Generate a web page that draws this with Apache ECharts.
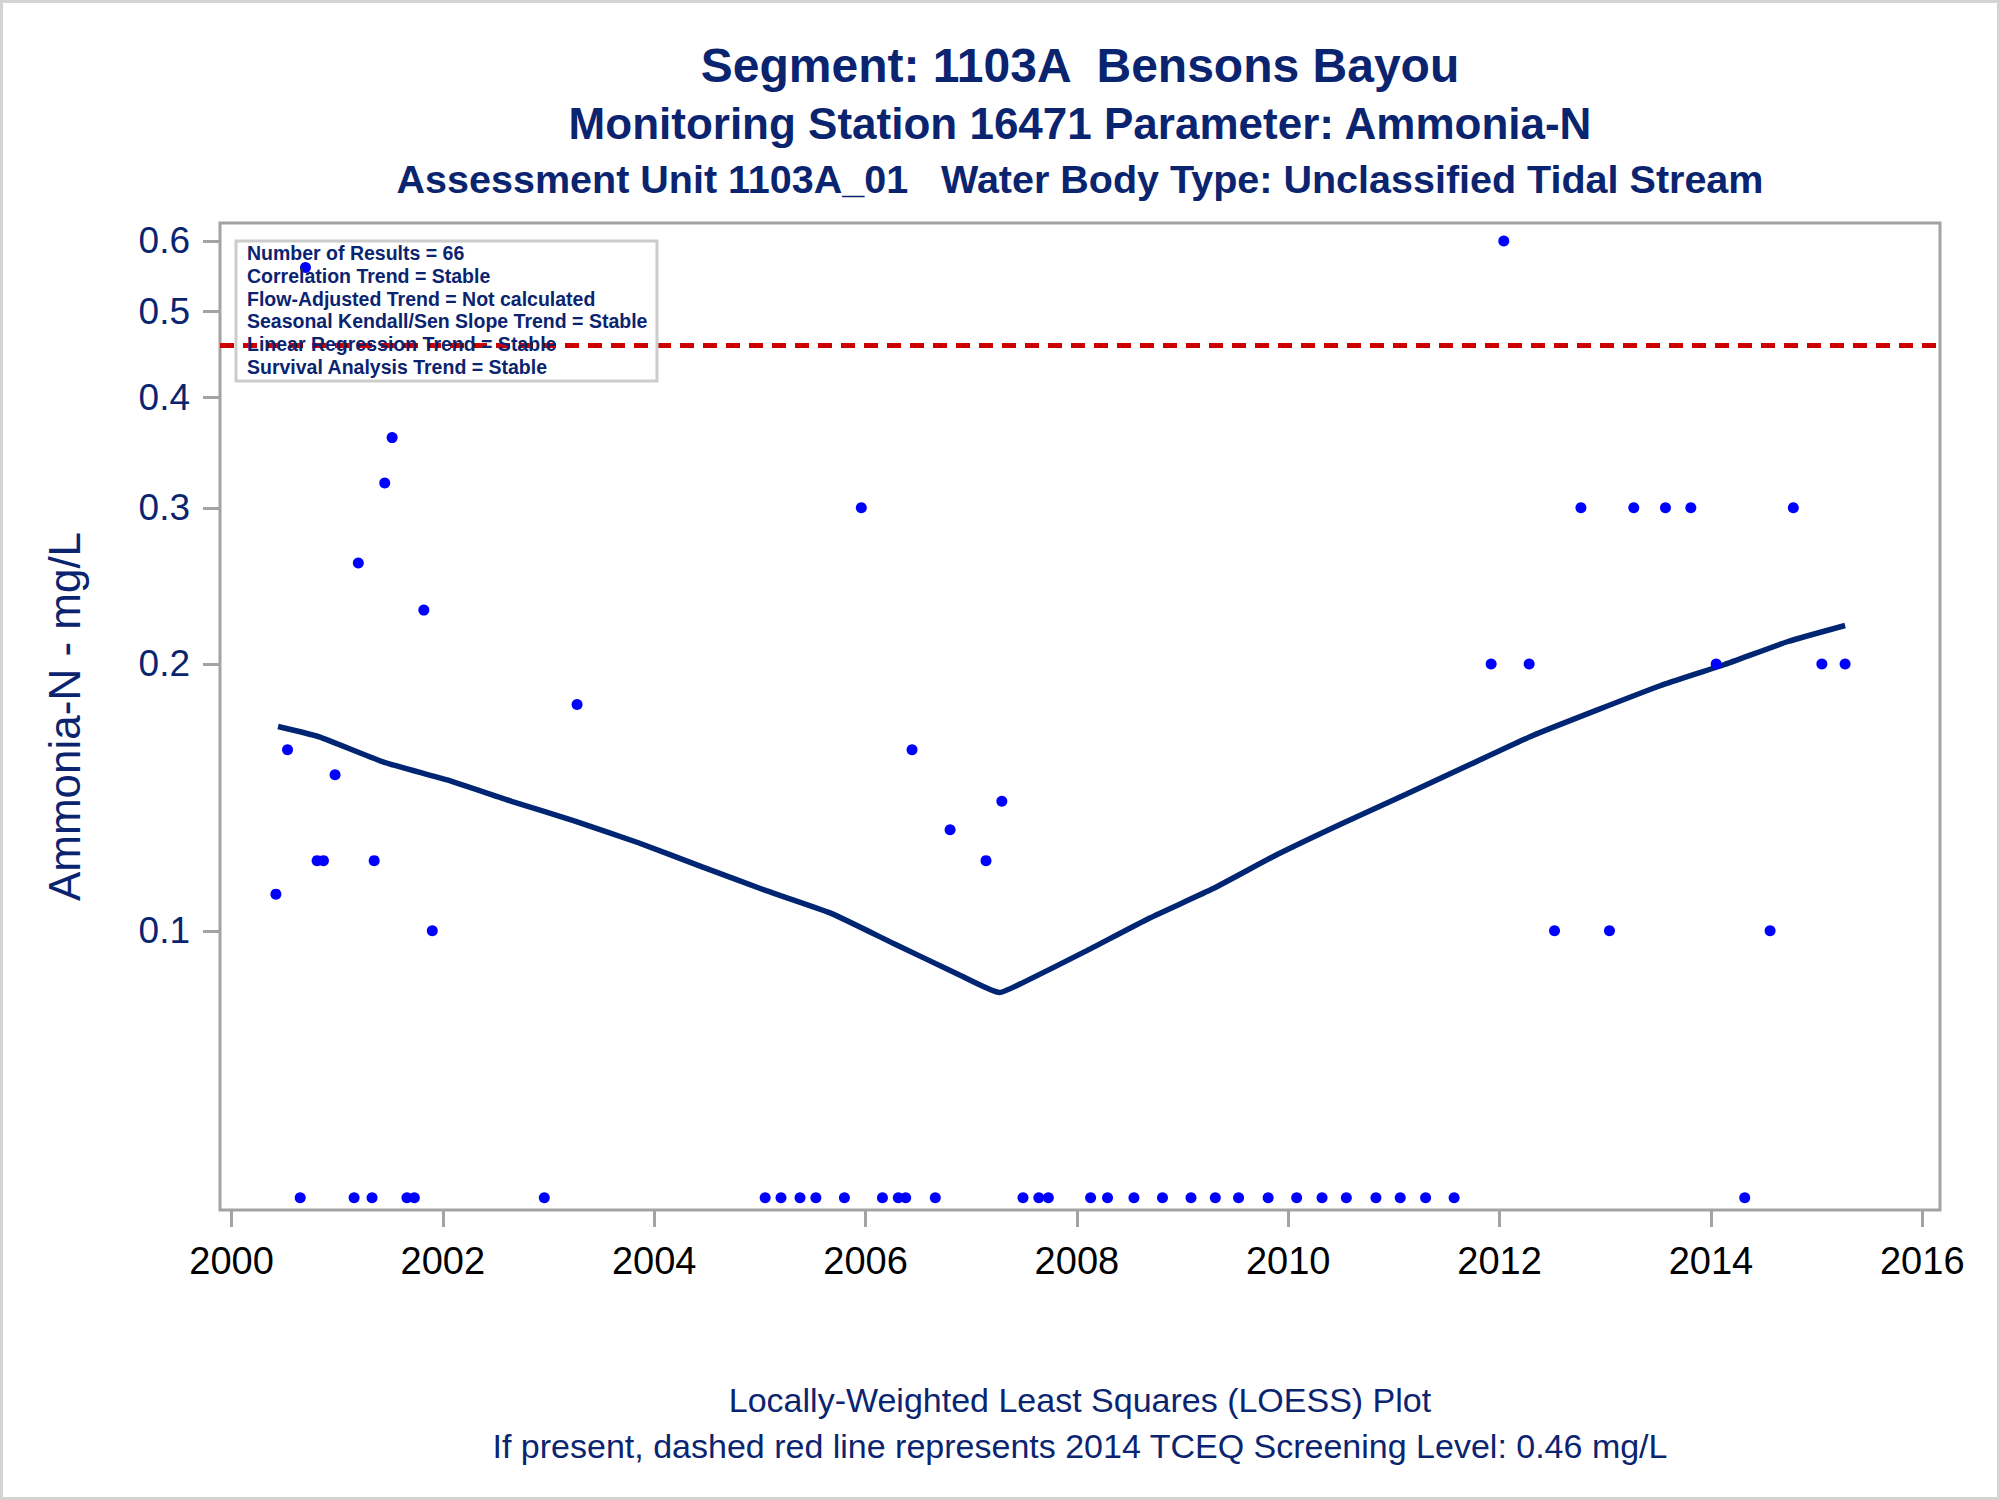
<!DOCTYPE html>
<html>
<head>
<meta charset="utf-8">
<title>Segment 1103A Bensons Bayou - Ammonia-N</title>
<script src="https://cdn.jsdelivr.net/npm/echarts@6/dist/echarts.min.js"></script>
<style>
  html, body { margin: 0; padding: 0; background: #fff; }
  #main { width: 2000px; height: 1500px; }
</style>
</head>
<body>
<div id="main"></div>
<script>
// sample dates (decimal year) and results, mg/L
const sampleYear = [
  2000.42, 2000.53, 2000.65, 2000.70, 2000.81, 2000.87, 2000.98, 2001.16, 2001.20, 2001.33,
  2001.35, 2001.45, 2001.52, 2001.66, 2001.73, 2001.82, 2001.90, 2002.96, 2003.27, 2005.05,
  2005.20, 2005.38, 2005.53, 2005.80, 2005.96, 2006.16, 2006.31, 2006.38, 2006.44, 2006.66,
  2006.80, 2007.14, 2007.29, 2007.49, 2007.64, 2007.73, 2008.13, 2008.29, 2008.54, 2008.81,
  2009.08, 2009.31, 2009.53, 2009.81, 2010.08, 2010.32, 2010.55, 2010.83, 2011.06, 2011.30,
  2011.57, 2011.92, 2012.04, 2012.28, 2012.52, 2012.77, 2013.04, 2013.27, 2013.57, 2013.81,
  2014.05, 2014.32, 2014.56, 2014.78, 2015.05, 2015.27
];
const sampleValue = [
  0.11, 0.16, 0.05, 0.56, 0.12, 0.12, 0.15, 0.05, 0.26, 0.05,
  0.12, 0.32, 0.36, 0.05, 0.05, 0.23, 0.10, 0.05, 0.18, 0.05,
  0.05, 0.05, 0.05, 0.05, 0.30, 0.05, 0.05, 0.05, 0.16, 0.05,
  0.13, 0.12, 0.14, 0.05, 0.05, 0.05, 0.05, 0.05, 0.05, 0.05,
  0.05, 0.05, 0.05, 0.05, 0.05, 0.05, 0.05, 0.05, 0.05, 0.05,
  0.05, 0.20, 0.60, 0.20, 0.10, 0.30, 0.10, 0.30, 0.30, 0.30,
  0.20, 0.05, 0.10, 0.30, 0.20, 0.20
];

// LOESS fit
const loessYear = [
  2000.44, 2000.83, 2001.44, 2002.04, 2002.65, 2003.25, 2003.85, 2004.46, 2005.06, 2005.67,
  2006.27, 2006.88, 2007.27, 2007.48, 2008.08, 2008.69, 2009.29, 2009.90, 2010.50, 2011.11,
  2011.71, 2012.31, 2012.92, 2013.52, 2014.13, 2014.73, 2015.27
];
const loessValue = [
  0.170, 0.1655, 0.155, 0.148, 0.140, 0.133, 0.1257, 0.118, 0.111, 0.1047,
  0.0967, 0.0893, 0.0852, 0.0873, 0.0948, 0.1034, 0.1116, 0.122, 0.132, 0.1425,
  0.1538, 0.166, 0.1774, 0.189, 0.1997, 0.212, 0.221
];

const screeningLevel = 0.46;
const yearTicks = [2000, 2002, 2004, 2006, 2008, 2010, 2012, 2014, 2016];
const valueTicks = [0.1, 0.2, 0.3, 0.4, 0.5, 0.6];

const titleLines = [
  'Segment: 1103A  Bensons Bayou',
  'Monitoring Station 16471 Parameter: Ammonia-N',
  'Assessment Unit 1103A_01   Water Body Type: Unclassified Tidal Stream'
];
const footLines = [
  'Locally-Weighted Least Squares (LOESS) Plot',
  'If present, dashed red line represents 2014 TCEQ Screening Level: 0.46 mg/L'
];
const statLines = [
  'Number of Results = 66',
  'Correlation Trend = Stable',
  'Flow-Adjusted Trend = Not calculated',
  'Seasonal Kendall/Sen Slope Trend = Stable',
  'Linear Regression Trend = Stable',
  'Survival Analysis Trend = Stable'
];

const navy = '#0b2470';
const font = "'Liberation Sans', Arial, Helvetica, sans-serif";
const lg = v => Math.log10(v);

// y axis is drawn in log10 units, labels show the real values
const gridLeft = 220, gridTop = 223, gridW = 1720, gridH = 987;
const cx = gridLeft + gridW / 2;

let graphics = [];
graphics.push({
  type: 'rect', silent: true, z: 0,
  shape: { x: 1.5, y: 1.5, width: 1997, height: 1497 },
  style: { fill: 'none', stroke: '#d3d3d3', lineWidth: 3 }
});
const titleSizes = [48, 44, 39.5];
const titleY = [65, 123, 179];
titleLines.forEach(function(t, i) {
  graphics.push({
    type: 'text', x: cx, y: titleY[i], z: 10,
    style: { text: t, fill: navy, fontSize: titleSizes[i], fontWeight: 'bold',
             fontFamily: font, align: 'center', verticalAlign: 'middle' }
  });
});
const footY = [1400, 1446];
footLines.forEach(function(t, i) {
  graphics.push({
    type: 'text', x: cx, y: footY[i], z: 10,
    style: { text: t, fill: navy, fontSize: 34, fontFamily: font,
             align: 'center', verticalAlign: 'middle' }
  });
});
graphics.push({
  type: 'text', x: 64, y: gridTop + gridH / 2, rotation: Math.PI / 2, z: 10,
  style: { text: 'Ammonia-N - mg/L', fill: navy, fontSize: 44, fontFamily: font,
           align: 'center', verticalAlign: 'middle' }
});
graphics.push({
  type: 'rect', silent: true, z: 10,
  shape: { x: 236, y: 241, width: 421, height: 140 },
  style: { fill: 'none', stroke: '#cccccc', lineWidth: 3 }
});
statLines.forEach(function(t, i) {
  graphics.push({
    type: 'text', x: 247, y: 253 + i * 22.8, z: 10,
    style: { text: t, fill: navy, fontSize: 19.5, fontWeight: 'bold', fontFamily: font,
             align: 'left', verticalAlign: 'middle' }
  });
});

const myChart = echarts.init(document.getElementById('main'), null, { renderer: 'svg' });

const option = {
  animation: false,
  backgroundColor: '#ffffff',
  textStyle: { fontFamily: font },
  grid: {
    left: gridLeft, top: gridTop, width: gridW, height: gridH,
    show: true, borderColor: '#a3a3a3', borderWidth: 3,
    containLabel: false, outerBoundsMode: 'none'
  },
  xAxis: {
    type: 'value',
    min: 1999.891, max: 2016.168,
    axisLine: { show: false },
    splitLine: { show: false },
    axisTick: { show: true, customValues: yearTicks, length: 17,
                lineStyle: { color: '#a3a3a3', width: 3 } },
    axisLabel: { customValues: yearTicks, fontSize: 38, color: '#000000',
                 margin: 32, fontFamily: font,
                 formatter: function(v) { return String(Math.round(v)); } }
  },
  yAxis: {
    type: 'value',
    min: lg(0.04843), max: lg(0.6286),
    axisLine: { show: false },
    splitLine: { show: false },
    axisTick: { show: true, customValues: valueTicks.map(lg), length: 17,
                lineStyle: { color: '#a3a3a3', width: 3 } },
    axisLabel: {
      customValues: valueTicks.map(lg), fontSize: 37, color: navy, margin: 30,
      fontFamily: font,
      formatter: function(v) { return String(Math.round(Math.pow(10, v) * 10) / 10); }
    }
  },
  series: [
    {
      name: 'LOESS',
      type: 'line',
      data: loessYear.map((x, i) => [x, lg(loessValue[i])]),
      showSymbol: false,
      smooth: 0.15,
      z: 2,
      lineStyle: { color: '#002673', width: 5.5 },
      markLine: {
        silent: true,
        symbol: ['none', 'none'],
        label: { show: false },
        lineStyle: { color: '#cc0000', width: 5, type: [14, 9] },
        data: [{ yAxis: lg(screeningLevel) }]
      }
    },
    {
      name: 'Ammonia-N',
      type: 'scatter',
      data: sampleYear.map((x, i) => [x, lg(sampleValue[i])]),
      symbol: 'circle',
      symbolSize: 11,
      z: 3,
      itemStyle: { color: '#0000ff', opacity: 1 }
    }
  ],
  graphic: graphics
};
myChart.setOption(option);
</script>
</body>
</html>
